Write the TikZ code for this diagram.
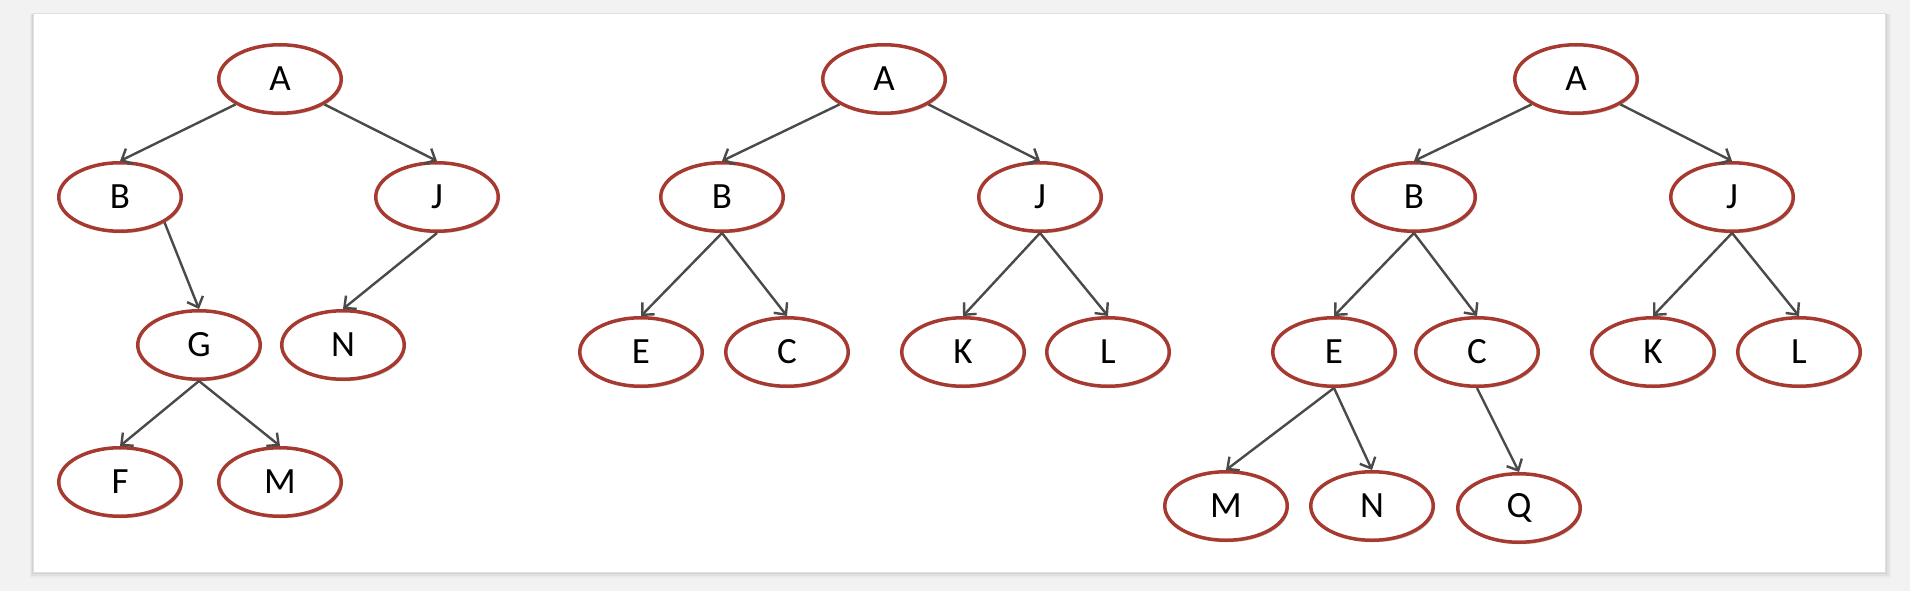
\documentclass[tikz,border=0pt]{standalone}
\usepackage{fontspec}
\setmainfont{Carlito}
\usetikzlibrary{shapes.geometric,arrows.meta,shadows}
\definecolor{nodered}{HTML}{A63A30}
\definecolor{edgegray}{HTML}{4A4A4A}
\definecolor{outerbg}{HTML}{F2F2F2}
\tikzset{
  tnode/.style={ellipse, draw=nodered, line width=3.5pt, fill=white,
    minimum width=122.5pt, minimum height=68.5pt, inner sep=0pt,
    font=\fontsize{37}{37}\selectfont,
    drop shadow={shadow xshift=1.5pt, shadow yshift=-2pt, opacity=0.18, fill=black}},
  tedge/.style={draw=edgegray, line width=2.4pt,
    -{Straight Barb[length=9pt,width=17pt,line width=2.4pt]}},
}
\begin{document}
\begin{tikzpicture}[x=1pt,y=-1pt]
\useasboundingbox (0,0) rectangle (1910,591);
\fill[outerbg] (0,0) rectangle (1910,591);
% frame with soft shadow
\foreach \d/\o in {6/0.03,4/0.04,2/0.06}{
  \fill[black,opacity=\o] (33-\d/2,14) rectangle (1885+\d,572+\d);
}
\fill[white] (33,14) rectangle (1885,572);
\draw[black!12,line width=1pt] (33,14) rectangle (1885,572);

% Tree 1
\node[tnode] (A1) at (280,79) {A};
\node[tnode] (B1) at (120,197) {B};
\node[tnode] (J1) at (437,197) {J};
\node[tnode] (G1) at (199,345) {G};
\node[tnode] (N1) at (343,345) {N};
\node[tnode] (F1) at (120,482) {F};
\node[tnode] (M1) at (280,482) {M};
\draw[tedge] (A1.south west) -- (B1.north);
\draw[tedge] (A1.south east) -- (J1.north);
\draw[tedge] (B1.south east) -- (G1.north);
\draw[tedge] (J1.south) -- (N1.north);
\draw[tedge] (G1.south) -- (F1.north);
\draw[tedge] (G1.south) -- (M1.north);

% Tree 2
\node[tnode] (A2) at (884,79) {A};
\node[tnode] (B2) at (722,197) {B};
\node[tnode] (J2) at (1040,197) {J};
\node[tnode] (E2) at (641,352) {E};
\node[tnode] (C2) at (787,352) {C};
\node[tnode] (K2) at (963,352) {K};
\node[tnode] (L2) at (1108,352) {L};
\draw[tedge] (A2.south west) -- (B2.north);
\draw[tedge] (A2.south east) -- (J2.north);
\draw[tedge] (B2.south) -- (E2.north);
\draw[tedge] (B2.south) -- (C2.north);
\draw[tedge] (J2.south) -- (K2.north);
\draw[tedge] (J2.south) -- (L2.north);

% Tree 3
\node[tnode] (A3) at (1576,79) {A};
\node[tnode] (B3) at (1414,197) {B};
\node[tnode] (J3) at (1732,197) {J};
\node[tnode] (E3) at (1334,352) {E};
\node[tnode] (C3) at (1477,352) {C};
\node[tnode] (K3) at (1653,352) {K};
\node[tnode] (L3) at (1799,352) {L};
\node[tnode] (M3) at (1226,506) {M};
\node[tnode] (N3) at (1372,506) {N};
\node[tnode] (Q3) at (1519,508) {Q};
\draw[tedge] (A3.south west) -- (B3.north);
\draw[tedge] (A3.south east) -- (J3.north);
\draw[tedge] (B3.south) -- (E3.north);
\draw[tedge] (B3.south) -- (C3.north);
\draw[tedge] (J3.south) -- (K3.north);
\draw[tedge] (J3.south) -- (L3.north);
\draw[tedge] (E3.south) -- (M3.north);
\draw[tedge] (E3.south) -- (N3.north);
\draw[tedge] (C3.south) -- (Q3.north);
\end{tikzpicture}
\end{document}
